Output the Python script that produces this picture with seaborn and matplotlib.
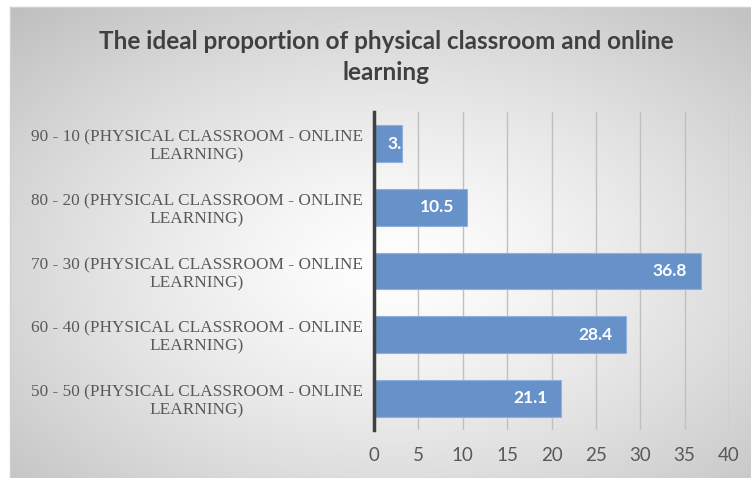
import numpy as np
import matplotlib
matplotlib.use("Agg")
import matplotlib.pyplot as plt
import seaborn as sns

# datos
categorias = ["90 - 10 (PHYSICAL CLASSROOM - ONLINE\nLEARNING)",
              "80 - 20 (PHYSICAL CLASSROOM - ONLINE\nLEARNING)",
              "70 - 30 (PHYSICAL CLASSROOM - ONLINE\nLEARNING)",
              "60 - 40 (PHYSICAL CLASSROOM - ONLINE\nLEARNING)",
              "50 - 50 (PHYSICAL CLASSROOM - ONLINE\nLEARNING)"]
valores = [3.2, 10.5, 36.8, 28.4, 21.1]
ticks_x = [0, 5, 10, 15, 20, 25, 30, 35, 40]

sns.set_theme(style="white")
plt.rcParams["font.family"] = ["Lato", "DejaVu Sans"]

W, H = 751, 478
fig = plt.figure(figsize=(W / 100, H / 100), dpi=100)
fig.patch.set_facecolor("white")

# fondo con degradado radial (como el grafico de Excel)
fondo = fig.add_axes([10 / W, 0, (W - 10) / W, (H - 7) / H], zorder=0)
yy, xx = np.mgrid[0:1:200j, 0:1:300j]
r = np.sqrt(((xx - 0.52) / 0.75) ** 2 + ((yy - 0.55) / 0.75) ** 2)
r = np.clip(r, 0, 1)
gris = 1 - 0.25 * r ** 1.3
fondo.imshow(np.dstack([gris, gris, gris]), aspect="auto", extent=[0, 1, 0, 1])
fondo.set_xticks([])
fondo.set_yticks([])
for s in fondo.spines.values():
    s.set_color("#d0d0d0")
    s.set_linewidth(1)

ax = fig.add_axes([374 / W, 1 - 430 / H, (729 - 374) / W, (430 - 112) / H], zorder=1)
ax.patch.set_alpha(0)

sns.barplot(x=valores, y=categorias, orient="h", color="#6792c9", width=0.58,
            edgecolor="#8fb0db", linewidth=0.8, saturation=1, ax=ax)

ax.set_xlim(0, 40)
ax.set_ylim(4.5, -0.5)
ax.set_xticks(ticks_x)
ax.set_xticklabels([str(t) for t in ticks_x], color="#595959", fontsize=13.5)
ax.set_yticks(range(len(categorias)))
ax.set_yticklabels(categorias, family="Liberation Serif", fontsize=12.4,
                   color="#595959", multialignment="center", linespacing=1.17)
ax.tick_params(axis="x", length=0, pad=12)
ax.tick_params(axis="y", length=0, pad=8)
ax.grid(axis="x", color="#c0c0c0", linewidth=1)
ax.set_axisbelow(True)
for s in ["top", "right", "bottom"]:
    ax.spines[s].set_visible(False)
ax.spines["left"].set_color("#404040")
ax.spines["left"].set_linewidth(2.5)
ax.spines["left"].set_zorder(5)
ax.set_xlabel("")
ax.set_ylabel("")

# etiquetas de datos dentro del extremo de la barra
# si no caben, Excel corta los caracteres que sobran
fig.canvas.draw()
rend = fig.canvas.get_renderer()
pad = 1.5
for barra, v in zip(ax.patches, valores):
    yc = barra.get_y() + barra.get_height() / 2
    if v < 6:
        t = ax.text(pad, yc, f"{v}", ha="left", va="center", color="white",
                    fontsize=12.5, fontweight="bold")
        fin = ax.transData.transform((v, yc))[0]
        txt = t.get_text()
        while txt and t.get_window_extent(rend).x1 > fin:
            txt = txt[:-1]
            t.set_text(txt)
    else:
        t = ax.text(v - pad, yc, f"{v}", ha="right", va="center", color="white",
                    fontsize=12.5, fontweight="bold")

fig.text(386 / W, 1 - 57 / H, "The ideal proportion of physical classroom and online\nlearning",
         ha="center", va="center", fontsize=17.5, fontweight="bold", color="#404040",
         linespacing=1.4)

fig.savefig("out.png", dpi=100)
